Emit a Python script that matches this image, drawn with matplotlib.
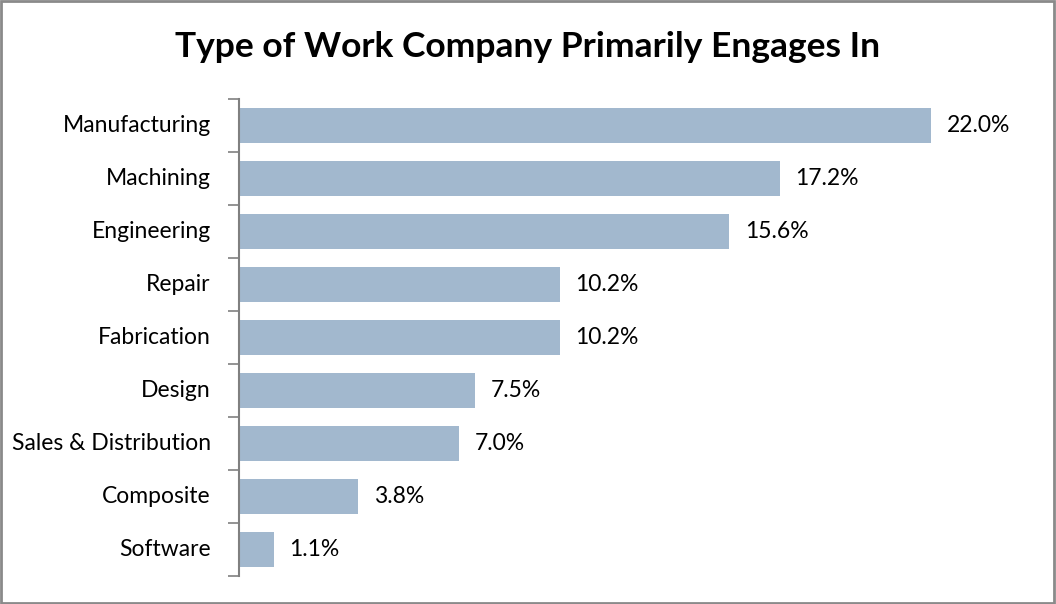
import matplotlib.pyplot as plt
from matplotlib.patches import Rectangle

categories = ["Manufacturing", "Machining", "Engineering", "Repair", "Fabrication",
              "Design", "Sales & Distribution", "Composite", "Software"]
shares = [22.0, 17.2, 15.6, 10.2, 10.2, 7.5, 7.0, 3.8, 1.1]

bar_color = "#A2B8CE"
label_font = ["Lato", "DejaVu Sans"]

fig = plt.figure(figsize=(10.56, 6.04), dpi=100)
ax = fig.add_axes([239 / 1056, 28 / 604, 786 / 1056, 477 / 604])

pos = list(range(len(categories)))
ax.barh(pos, shares, height=0.66, color=bar_color)
ax.set_ylim(len(categories) - 0.5, -0.5)
ax.set_xlim(0, 25)

for y, v in zip(pos, shares):
    ax.text(v + 0.5, y, f"{v:.1f}%", va="center", ha="left",
            fontsize=16.5, family=label_font, color="black")

# category names as plain text, ticks sit on the category boundaries
ax.set_yticks([p - 0.5 for p in pos] + [len(pos) - 0.5])
ax.set_yticklabels([])
for y, name in zip(pos, categories):
    ax.text(-0.9, y, name, va="center", ha="right", fontsize=16.5,
            family=label_font, color="black")
ax.tick_params(axis="y", length=8, width=1.2, color="#808080", direction="out")
ax.set_xticks([])

for s in ["top", "right", "bottom"]:
    ax.spines[s].set_visible(False)
ax.spines["left"].set_color("#808080")
ax.spines["left"].set_linewidth(1.5)

fig.text(0.5, 0.922, "Type of Work Company Primarily Engages In", ha="center", va="center",
         fontsize=25.5, fontweight="bold", family=["Lato", "DejaVu Sans"])

fig.patches.append(Rectangle((0.001, 0.002), 0.997, 0.996, transform=fig.transFigure,
                             fill=False, edgecolor="#8a8a8a", linewidth=2))

fig.savefig("out.png", dpi=100)
